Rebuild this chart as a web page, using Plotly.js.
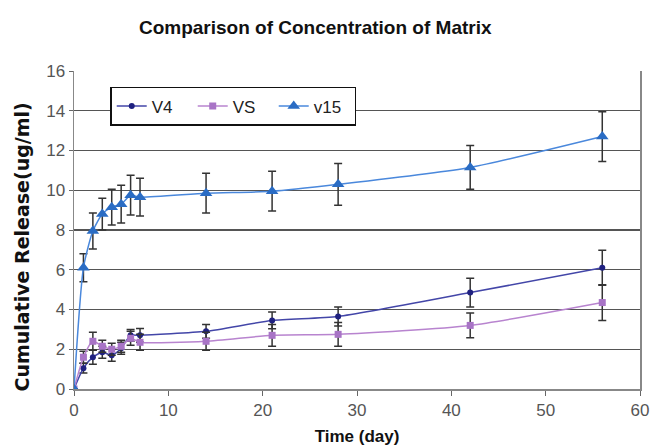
<!DOCTYPE html>
<html>
<head>
<meta charset="utf-8">
<script src="https://cdn.plot.ly/plotly-3.0.1.min.js"></script>
<style>html,body{margin:0;padding:0;background:#fff;}#chart{width:650px;height:448px;}</style>
</head>
<body>
<div id="chart"></div>
<script>
const days = [0, 1, 2, 3, 4, 5, 6, 7, 14, 21, 28, 42, 56];
const v4 = [0, 1.05, 1.6, 1.85, 1.7, 2.05, 2.7, 2.7, 2.9, 3.45, 3.65, 4.85, 6.1];
const v4Err = [0, 0.25, 0.35, 0.3, 0.3, 0.3, 0.3, 0.35, 0.35, 0.42, 0.48, 0.72, 0.88];
const vs = [0, 1.6, 2.4, 2.15, 2.0, 2.15, 2.55, 2.35, 2.4, 2.7, 2.75, 3.2, 4.35];
const vsErr = [0, 0.3, 0.45, 0.3, 0.3, 0.3, 0.35, 0.4, 0.45, 0.55, 0.6, 0.62, 0.9];
const v15 = [0, 6.1, 7.95, 8.8, 9.15, 9.3, 9.75, 9.65, 9.85, 9.95, 10.3, 11.15, 12.7];
const v15Err = [0, 0.7, 0.9, 0.8, 0.9, 0.95, 1.0, 0.95, 1.0, 1.0, 1.05, 1.1, 1.25];
const names = ["V4", "VS", "v15"];
const xTicks = [0, 10, 20, 30, 40, 50, 60];
const yTicks = [0, 2, 4, 6, 8, 10, 12, 14, 16];

const errStyle = (arr) => ({type: "data", array: arr, visible: true, color: "#333", thickness: 1.5, width: 4});

const traces = [
  {x: days, y: v4, name: names[0], mode: "lines+markers", type: "scatter",
   line: {color: "#4346a8", width: 1.5, shape: "spline", smoothing: 0.6},
   marker: {symbol: "circle", size: 6, color: "#1f2180"}, error_y: errStyle(v4Err)},
  {x: days, y: vs, name: names[1], mode: "lines+markers", type: "scatter",
   line: {color: "#b884cf", width: 1.5, shape: "spline", smoothing: 0.6},
   marker: {symbol: "square", size: 7, color: "#a874c6"}, error_y: errStyle(vsErr)},
  {x: days, y: v15, name: names[2], mode: "lines+markers", type: "scatter",
   line: {color: "#4a88dc", width: 1.5, shape: "spline", smoothing: 0.6},
   marker: {symbol: "triangle-up", size: 11, color: "#2a6cc4"}, error_y: errStyle(v15Err)}
];

const layout = {
  width: 650, height: 448,
  margin: {l: 74, r: 10, t: 71, b: 59},
  paper_bgcolor: "#fff", plot_bgcolor: "#fff",
  font: {family: "Liberation Sans, Arial, sans-serif", color: "#333", size: 14},
  title: {text: "<b>Comparison of Concentration of Matrix</b>", x: 0.485, xanchor: "center", y: 0.94, yanchor: "middle",
          font: {family: "Liberation Sans, Arial, sans-serif", size: 19, color: "#111"}},
  xaxis: {range: [0, 60], tickvals: xTicks, ticktext: xTicks.map(String), showgrid: false, zeroline: false,
          showline: true, linecolor: "#888", linewidth: 1.5, ticks: "outside", ticklen: 5, tickcolor: "#666",
          tickfont: {size: 17, color: "#555"},
          title: {text: "<b>Time (day)</b>", standoff: 11, font: {family: "Liberation Sans, Arial, sans-serif", size: 17, color: "#111"}}},
  yaxis: {range: [0, 16], tickvals: yTicks, ticktext: yTicks.map(String), showgrid: true, gridcolor: "#555", gridwidth: 1.3,
          zeroline: false, showline: true, mirror: true, linecolor: "#888", linewidth: 1.5,
          ticks: "outside", ticklen: 4, tickcolor: "#666", tickfont: {size: 17, color: "#555"}},
  annotations: [{text: "<b>Cumulative Release(ug/ml)</b>", textangle: -90, xref: "paper", yref: "paper",
                 x: -0.092, y: -0.013, xanchor: "center", yanchor: "bottom", showarrow: false,
                 font: {family: "DejaVu Sans, sans-serif", size: 19, color: "#111"}}],
  legend: {orientation: "h", x: 0.064, xanchor: "left", y: 0.95, yanchor: "top",
           bgcolor: "#fff", bordercolor: "#111", borderwidth: 1.5,
           font: {size: 17, color: "#222"}, entrywidth: 36, entrywidthmode: "pixels"},
  showlegend: true
};

Plotly.newPlot("chart", traces, layout, {displayModeBar: false, staticPlot: true});
</script>
</body>
</html>
